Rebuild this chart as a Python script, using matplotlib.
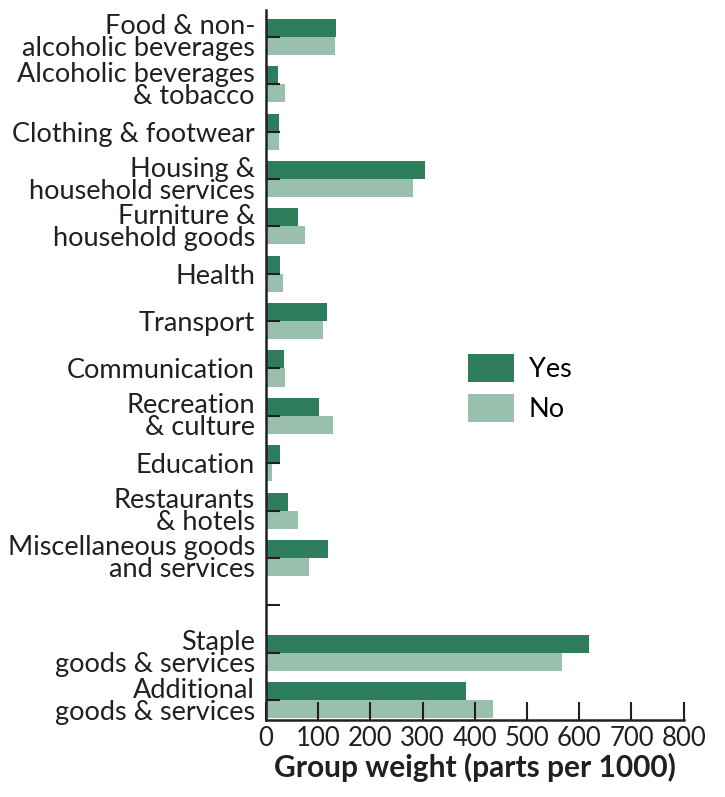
import matplotlib
matplotlib.use("Agg")
import matplotlib.pyplot as plt
import numpy as np

# categories, "" marks the blank gap row
categories = ["Food & non-\nalcoholic beverages", "Alcoholic beverages\n& tobacco",
              "Clothing & footwear", "Housing &\nhousehold services",
              "Furniture &\nhousehold goods", "Health", "Transport", "Communication",
              "Recreation\n& culture", "Education", "Restaurants\n& hotels",
              "Miscellaneous goods\nand services", "",
              "Staple\ngoods & services", "Additional\ngoods & services"]
yes_vals = [134, 23, 25, 304, 61, 27, 117, 34, 101, 27, 42, 119, np.nan, 618, 383]
no_vals = [132, 36, 25, 281, 75, 33, 109, 36, 128, 11, 61, 82, np.nan, 567, 434]
x_ticks = [0, 100, 200, 300, 400, 500, 600, 700, 800]

plt.rcParams['font.family'] = ['Lato', 'DejaVu Sans']

def main():
    fig = plt.figure(figsize=(7.25, 7.97), dpi=100)
    ax = fig.add_axes([0.367, 0.0966, 0.576, 0.891])

    pos = np.arange(len(categories))
    h = 0.38
    ax.barh(pos - h / 2, yes_vals, height=h, color='#2e7d5c', label="Yes")
    ax.barh(pos + h / 2, no_vals, height=h, color='#98c0ad', label="No")

    ax.set_ylim(14.42, -0.57)
    ax.set_xlim(0, 800)
    ax.set_yticks(pos)
    ax.set_yticklabels(categories, fontsize=19.5, linespacing=0.85, color='#231f20')
    ax.set_xticks(x_ticks)
    ax.set_xticklabels([str(t) for t in x_ticks], fontsize=18.5, color='#231f20')
    ax.tick_params(axis='y', direction='in', length=10, width=1.5, color='#231f20', pad=8)
    ax.tick_params(axis='x', direction='in', length=13, width=1.5, color='#231f20', pad=4)
    ax.set_axisbelow(False)

    for s in ['top', 'right']:
        ax.spines[s].set_visible(False)
    for s in ['left', 'bottom']:
        ax.spines[s].set_linewidth(1.8)
        ax.spines[s].set_color('#231f20')

    ax.set_xlabel("Group weight (parts per 1000)", fontsize=21.5, fontweight='bold',
                  color='#231f20', labelpad=2)

    ax.legend(loc='upper left', bbox_to_anchor=(0.425, 0.55), frameon=False,
              fontsize=19.5, handlelength=1.7, handleheight=1.2, handletextpad=0.55,
              labelspacing=0.45)

    fig.savefig("out.png", dpi=100)


if __name__ == "__main__":
    main()
